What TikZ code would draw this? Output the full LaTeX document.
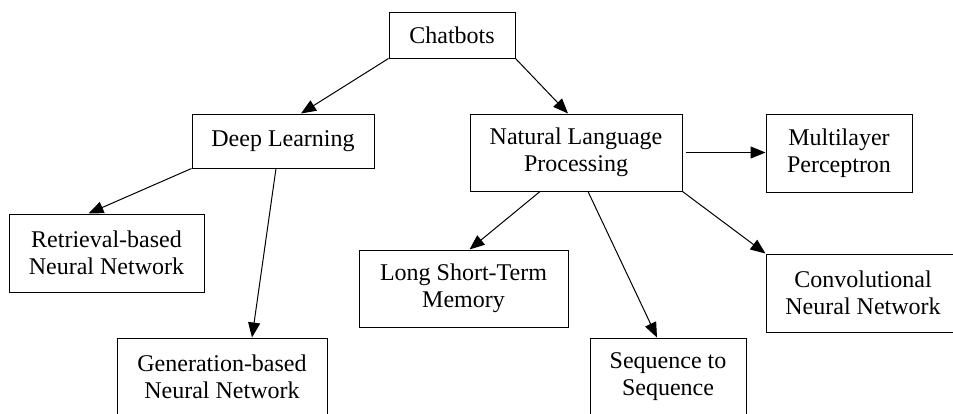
\documentclass[tikz,border=0pt]{standalone}
\usepackage{fontspec}
\setmainfont{Liberation Serif}
\usetikzlibrary{arrows.meta}
\begin{document}
\begin{tikzpicture}[x=1pt,y=-1pt,
  box/.style={draw,line width=1pt,rectangle,align=center,inner sep=0pt,
    font=\fontsize{24}{27}\selectfont},
  link/.style={line width=1pt,-{Triangle[length=15pt,width=12pt]}}]
\useasboundingbox (0,0) rectangle (953,413);
\clip (0,0) rectangle (953,413);
\fill[white] (0,0) rectangle (953,413);
\node[box,minimum width=126pt,minimum height=46pt] (chat) at (452,35) {Chatbots};
\node[box,minimum width=182pt,minimum height=54pt] (dl) at (283,141) {Deep Learning};
\node[box,minimum width=212pt,minimum height=77pt] (nlp) at (576,152.5) {Natural Language\\Processing};
\node[box,minimum width=146pt,minimum height=78pt] (mlp) at (839,153) {Multilayer\\Perceptron};
\node[box,minimum width=195pt,minimum height=78pt] (ret) at (106.5,253) {Retrieval-based\\Neural Network};
\node[box,minimum width=209pt,minimum height=77pt] (lstm) at (463.5,288.5) {Long Short-Term\\Memory};
\node[box,minimum width=194pt,minimum height=78pt] (cnn) at (863,293) {Convolutional\\Neural Network};
\node[box,minimum width=210pt,minimum height=78pt] (gen) at (222,377) {Generation-based\\Neural Network};
\node[box,minimum width=156pt,minimum height=78pt] (seq) at (668,377) {Sequence to\\Sequence};
\draw[link] (chat.south west) -- ([xshift=18pt]dl.north);
\draw[link] (chat.south east) -- ([xshift=-8pt]nlp.north);
\draw[link] (dl.south west) -- ([xshift=-18pt]ret.north);
\draw[link] ([xshift=-7pt]dl.south) -- ([xshift=30pt]gen.north);
\draw[link] ([xshift=3pt]nlp.east) -- (mlp.west |- nlp.east);
\draw[link] ([xshift=-36pt]nlp.south) -- ([xshift=6pt]lstm.north);
\draw[link] ([xshift=12pt]nlp.south) -- ([xshift=-11pt]seq.north);
\draw[link] (nlp.south east) -- (cnn.north west);
\end{tikzpicture}
\end{document}
